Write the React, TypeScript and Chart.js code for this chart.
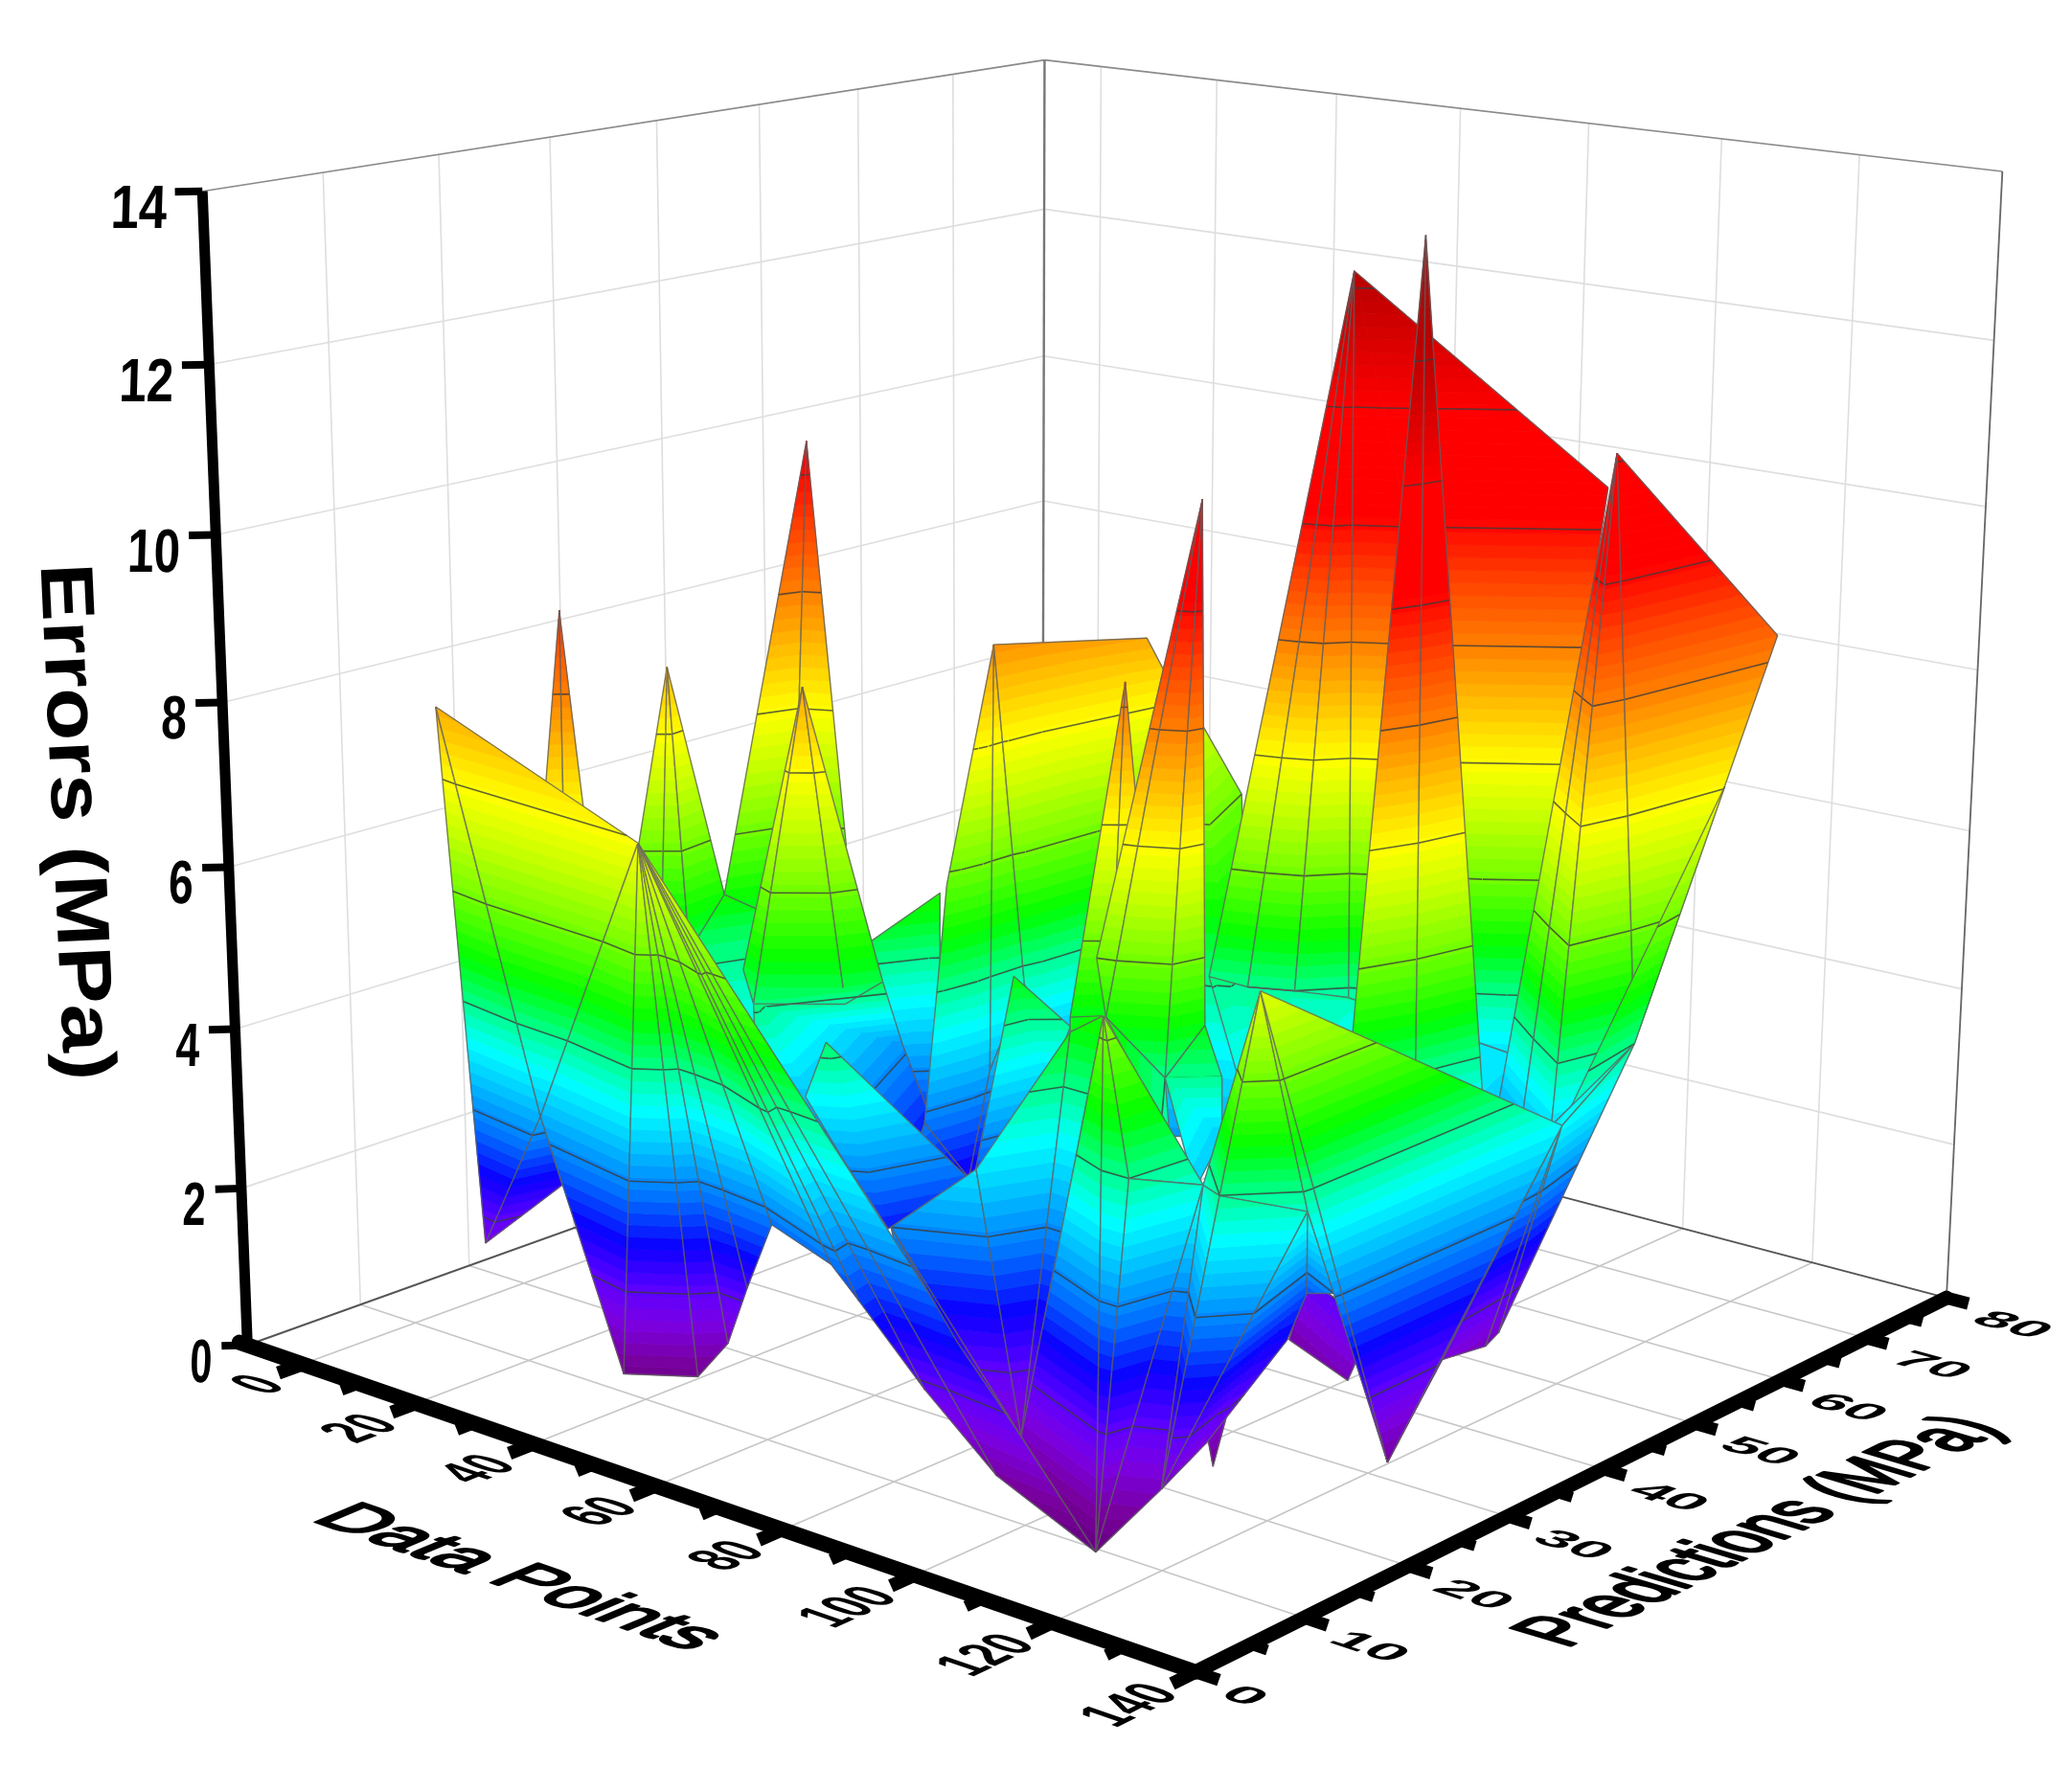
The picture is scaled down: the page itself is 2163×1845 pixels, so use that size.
import React, {useEffect, useRef} from 'react';
import {Chart, registerables} from 'chart.js';
Chart.register(...registerables);
const W=2163,H=1845;
const dataTicks=[0,20,40,60,80,100,120,140];
const predTicks=[0,10,20,30,40,50,60,70,80];
const errTicks=[0,2,4,6,8,10,12,14];
const DMIN=-10,DMAX=140,PMAX=80,ZMAX=14;
// camera fit: data-space axis landmarks -> image position
const CAL:number[][]=[[-10,0,0,260,1404],[-10,0,14,210,200],[-10,0,8,232,731],[140,0,0,1248,1748],[140,80,0,2035,1352],[140,80,14,2090,179],[-10,80,14,1091,62],[-10,80,0,1085,1109],[-10,80,12,1091,218],[0,0,0,318,1425],[60,0,0,683,1552],[140,40,0,1671,1533],[0,80,14,1149,69],[20,80,14,1271,83],[40,80,14,1395,100],[120,80,14,1941,163]];
function solve(){const n=11;const A=Array.from({length:n},()=>new Array(n+1).fill(0));
 const add=(r:number[],b:number)=>{for(let i=0;i<n;i++){for(let j=0;j<n;j++)A[i][j]+=r[i]*r[j];A[i][n]+=r[i]*b;}};
 for(const [d,p,z,u0,v0] of CAL){const X=d/100,Y=p/100,Z=z/10,u=u0/1000,v=v0/1000;
  add([X,Y,Z,1,0,0,0,0,-u*X,-u*Y,-u*Z],u);add([0,0,0,0,X,Y,Z,1,-v*X,-v*Y,-v*Z],v);}
 for(let i=0;i<n;i++){let m=i;for(let k=i+1;k<n;k++)if(Math.abs(A[k][i])>Math.abs(A[m][i]))m=k;[A[i],A[m]]=[A[m],A[i]];
  for(let k=0;k<n;k++)if(k!==i){const f=A[k][i]/A[i][i];for(let j=i;j<=n;j++)A[k][j]-=f*A[i][j];}}
 return A.map((r,i)=>r[n]/r[i]);}
const M=solve();
function proj(d:number,p:number,z:number):[number,number]{const X=d/100,Y=p/100,Z=z/10;const w=M[8]*X+M[9]*Y+M[10]*Z+1;
 return [1000*(M[0]*X+M[1]*Y+M[2]*Z+M[3])/w,1000*(M[4]*X+M[5]*Y+M[6]*Z+M[7])/w];}
const dataPoint=[29.7,31.0,25.4,28.1,12.0,12.0,15.7,18.4,16.4,20.3,24.9,11.9,15.3,38.2,21.2,38.8,34.8,41.2,37.6,37.1,33.5,37.3,
45.8,47.5,118.2,127.2,50.5,41.6,46.0,51.9,89.6,78.7,60.9,45.9,51.2,50.4,51.1,51.5,51.8,50.2,47.6,50.5,49.8,83.2,
77.6,85.3,81.2,98.3,84.6,85.6,91.5,93.3,96.2,92.9,102.4,80.9,71.4,76.3,81.7,86.0,104.4,107.2,115.8,109.7,112.6,114.6,
124.5,127.7,125.5,122.9,114.0,105.6,126.2,127.7,56.5,64.6,61.6,57.5,53.8,7.8,7.2,22.1,44.1,38.6,46.0,48.5,53.4,60.0,
74.4,79.4,86.0,96.8,112.6,113.2,109.8,112.5,98.0,96.1,111.3,114.7,64.6,62.0,64.4,68.1,75.0,82.6,83.0,104.8,94.5,86.8,
14.6,111.1,113.2,117.5,122.3,128.4,117.4,115.0,129.5,129.5,127.3,127.3,119.6,117.7,117.8,87.1,121.4,104.0,95.8,31.7,103.4];
const prediction=[9.2,11.3,8.7,10.0,28.2,23.5,25.2,26.4,30.9,35.3,38.0,41.9,31.6,27.6,22.0,39.1,34.7,37.6,35.6,26.9,23.1,21.9,
25.7,28.3,24.8,21.2,25.4,19.9,61.2,62.4,38.2,35.3,48.2,40.2,52.5,55.4,53.1,43.2,34.1,30.7,34.5,37.0,40.9,29.7,
28.1,31.6,29.7,27.1,26.2,26.5,28.5,31.2,31.0,33.3,24.4,53.8,46.1,46.9,48.2,51.0,56.7,62.6,36.3,34.7,39.4,45.1,
50.1,66.2,53.3,46.4,49.9,53.4,62.0,43.9,17.7,26.3,20.4,18.8,17.3,9.5,12.9,10.5,8.0,8.8,11.5,12.9,12.0,10.6,
7.7,7.3,9.3,9.3,8.6,18.6,21.5,21.2,38.8,38.3,33.9,34.1,30.7,28.5,34.4,34.1,12.8,16.1,24.7,14.0,13.0,11.8,
16.2,12.4,18.0,11.5,13.5,17.7,23.5,17.4,12.2,12.2,26.8,26.8,37.8,43.8,45.1,25.3,48.5,40.0,34.7,39.5,21.2];
const errorMPa=[9.4,5.6,5.6,5.6,7.8,4.4,4.4,4.4,4.9,4.4,5.4,10.2,4.9,3.4,3.3,5.0,4.5,1.9,2.0,8.0,4.6,4.3,
4.3,4.5,2.4,2.8,2.1,2.5,6.6,5.6,3.0,2.9,4.3,8.2,7.95,7.3,4.25,2.97,1.84,2.67,5.45,3.06,3.97,8.7,
4.67,4.67,4.67,11.1,5.6,4.9,4.2,4.75,4.2,3.3,3.3,12.8,4.27,4.2,4.2,4.08,3.45,10.3,14.0,4.55,4.0,3.7,
11.3,8.7,4.2,3.46,3.2,2.96,7.0,3.68,4.4,2.5,2.1,2.9,3.7,7.9,1.05,3.1,6.95,0.35,0.35,0.75,1.6,2.6,
2.6,2.3,1.3,0.55,0.1,0.95,0.3,1.1,1.35,0.6,0.7,1.5,4.8,2.4,3.3,4.1,2.8,3.5,4.75,5.85,0.75,1.75,
1.8,4.2,3.9,0.8,4.2,3.95,1.9,0.95,6.7,6.7,0.5,0.5,0.95,0.75,0.85,5.0,3.2,2.9,3.3,2.9,4.1];
const VERT=dataPoint.map((d,i)=>[d,prediction[i],errorMPa[i]]);
// surface facets, back to front (painter's order), by vertex index
const FACES:number[][]=[[5,8,9,13,14],[0,2,3],[0,3,1],[4,5,6],[4,6,7],[4,7,8],[11,8,9],[11,9,10],[15,16,18,17],[19,20,21],[19,21,22],[19,22,23],[21,22,23,129,17,26,27],[28,29,30,31,32],[33,40,39,38,41],[33,41,42],[33,42,37,36,35,34],[38,37,42,41],[39,38,76],[43,44,46],[43,46,45],[47,48,49],[47,49,50],[47,50,51],[49,50,130],[50,51,52,53,54],[56,59,60,126,127,128],[55,56,57],[55,57,58],[55,58,59],[55,59,60,61],[62,63,64],[62,64,65],[66,71,70],[66,70,69],[66,69,68],[66,68,67],[72,73,68],[69,68,73],[74,75,76,77,78],[104,109,90],[79,81,80],[81,80,110],[79,82,81],[82,81,83],[82,83,84],[82,84,85],[82,85,86],[82,86,87],[82,87,88],[82,88,89],[82,89,90],[82,90,91],[82,91,92],[93,94,95],[96,97,98,99],[100,101,102,103],[108,109,104],[108,104,105],[108,105,106],[44,125,106],[108,106,125],[92,108,107],[92,107,111],[107,111,112],[92,111,112],[92,112,113],[113,112,114],[113,114,115],[113,115,24,116,117],[115,24,25],[118,112,114],[118,114,115],[73,120,122],[73,122,123],[73,123,124],[68,124,73],[118,115,120],[118,120,73]];
const STOPS:[number,number,number,number][]=[[0,0x5e,0,0x78],[0.5,0x78,0,0x9c],[1,0x7a,0,0xe0],[1.4,0x60,0,0xff],[2,0x0a,0,0xff],[2.6,0,0x70,0xff],[3.2,0,0xc0,0xff],[3.7,0,0xff,0xff],[4.2,0,0xff,0x90],[4.8,0,0xff,0],[5.6,0x70,0xff,0],[6.4,0xc8,0xff,0],[7,0xff,0xff,0],[7.7,0xff,0xc0,0],[8.4,0xff,0x80,0],[9.2,0xff,0x40,0],[9.9,0xff,0,0],[11.2,0xff,0,0],[12,0xd8,0,0],[12.8,0xb8,0,0],[14,0x90,0x20,0x20]];
function colorAt(z:number){let i=0;while(i<STOPS.length-2&&z>STOPS[i+1][0])i++;const a=STOPS[i],b=STOPS[i+1];const t=Math.max(0,Math.min(1,(z-a[0])/(b[0]-a[0])));
 return `rgb(${Math.round(a[1]+t*(b[1]-a[1]))},${Math.round(a[2]+t*(b[2]-a[2]))},${Math.round(a[3]+t*(b[3]-a[3]))})`;}
const BAND=0.15,CONTOUR=1.4;
function clip(poly:number[][],lv:number,keepAbove:boolean){const out:number[][]=[];for(let i=0;i<poly.length;i++){const a=poly[i],b=poly[(i+1)%poly.length];
 const ia=keepAbove?a[2]>=lv:a[2]<=lv,ib=keepAbove?b[2]>=lv:b[2]<=lv;if(ia)out.push(a);
 if(ia!==ib){const t=(lv-a[2])/(b[2]-a[2]);out.push([a[0]+t*(b[0]-a[0]),a[1]+t*(b[1]-a[1]),lv]);}}return out;}
function pts(list:number[][]){return list.map(v=>{const [x,y]=proj(v[0],v[1],v[2]);return {x,y};});}
function line(a:number[],b:number[],color:string,w:number,cap='butt'){return {data:pts([a,b]),borderColor:color,borderWidth:w,borderCapStyle:cap,pointRadius:0,showLine:true,fill:false};}
function build(){const ds:any[]=[];
 const wall='#dedede',fl='#c6c6c6';
 for(const z of errTicks.slice(1,-1)){ds.push(line([DMIN,0,z],[DMIN,PMAX,z],wall,1.6));ds.push(line([DMIN,PMAX,z],[DMAX,PMAX,z],wall,1.6));}
 for(const p of predTicks.slice(1,-1)){ds.push(line([DMIN,p,0],[DMIN,p,ZMAX],wall,1.6));ds.push(line([DMIN,p,0],[DMAX,p,0],fl,1.6));}
 for(const d of dataTicks.slice(0,-1)){ds.push(line([d,PMAX,0],[d,PMAX,ZMAX],wall,1.6));ds.push(line([d,0,0],[d,PMAX,0],fl,1.6));}
 ds.push(line([DMIN,0,ZMAX],[DMIN,PMAX,ZMAX],'#8a8a8a',1.6));ds.push(line([DMIN,PMAX,ZMAX],[DMAX,PMAX,ZMAX],'#8a8a8a',1.6));
 ds.push(line([DMIN,PMAX,0],[DMIN,PMAX,ZMAX],'#777',2.4));ds.push(line([DMAX,PMAX,0],[DMAX,PMAX,ZMAX],'#666',1.8));
 ds.push(line([DMIN,0,0],[DMIN,PMAX,0],'#555',2));ds.push(line([DMIN,PMAX,0],[DMAX,PMAX,0],'#555',2));
 for(const f of FACES){const vs=f.map(i=>VERT[i]);
  for(let k=1;k<vs.length-1;k++){const tri=[vs[0],vs[k],vs[k+1]];const zs=tri.map(v=>v[2]);const lo=Math.floor(Math.min(...zs)/BAND),hi=Math.ceil(Math.max(...zs)/BAND);
   for(let b=lo;b<hi;b++){let poly=clip(tri,b*BAND,true);if(poly.length<3)continue;poly=clip(poly,(b+1)*BAND,false);if(poly.length<3)continue;
    const c=colorAt((b+0.5)*BAND);const P=pts(poly);P.push(P[0]);ds.push({data:P,backgroundColor:c,borderColor:c,borderWidth:0.9,pointRadius:0,showLine:true,fill:'shape'});}
   for(let n=1;n*CONTOUR<14;n++){const L=n*CONTOUR+1e-4;const cross:number[][]=[];for(let i=0;i<3;i++){const a=tri[i],b=tri[(i+1)%3];if((a[2]-L)*(b[2]-L)<0){const t=(L-a[2])/(b[2]-a[2]);cross.push([a[0]+t*(b[0]-a[0]),a[1]+t*(b[1]-a[1]),L]);}}
    if(cross.length===2)ds.push(line(cross[0],cross[1],'rgba(60,60,60,0.8)',1.6));}
  }
  for(let i=0;i<vs.length;i++)ds.push(line(vs[i],vs[(i+1)%vs.length],'rgba(95,95,95,0.8)',1.4));
 }
 for(let d=0;d<=DMAX;d+=10){const maj=d%20===0;ds.push(line([d,0,0],[d,maj?-2.1:-1.5,0],'#000',maj?14:12));}
 for(let p=0;p<=PMAX;p+=5){const maj=p%10===0;ds.push(line([DMAX,p,0],[DMAX+(maj?3.2:2.3),p,0],'#000',maj?13:11));}
 for(const z of errTicks)ds.push(line([DMIN,0,z],[DMIN-2.2,-1.2,z],'#000',8));
 ds.push(line([DMIN,0,0],[DMIN,0,ZMAX],'#000',11));ds.push(line([DMIN-1.5,0,0],[DMAX,0,0],'#000',16,'round'));ds.push(line([DMAX,0,0],[DMAX,PMAX,0],'#000',15,'round'));
 ds.forEach((d,i)=>{d.order=ds.length-i;});return ds;}
function unit(a:[number,number],b:[number,number]):[number,number]{const x=b[0]-a[0],y=b[1]-a[1],l=Math.hypot(x,y);return [x/l,y/l];}
function txt(ctx:any,s:string,x:number,y:number,u:number[],v:number[],len:number,h:number,align:string,bold=true){ctx.save();ctx.font=(bold?'bold ':'')+'40px "Liberation Sans"';ctx.fillStyle='#000';ctx.strokeStyle='#000';ctx.lineWidth=1.8;ctx.lineJoin='round';ctx.textAlign='left';ctx.textBaseline='alphabetic';
 const w=ctx.measureText(s).width,k1=len/w,k2=h/(40*0.72);ctx.transform(u[0]*k1,u[1]*k1,-v[0]*k2,-v[1]*k2,x,y);
 const ox=align==='center'?-w/2:align==='right'?-w:0;ctx.fillText(s,ox,40*0.72*0.5);if(!bold)ctx.strokeText(s,ox,40*0.72*0.5);ctx.restore();}
const labels={id:'labels3d',afterDraw(chart:any){const ctx=chart.ctx,sx=chart.scales.x,sy=chart.scales.y;const px=(d:number,p:number,z:number):[number,number]=>{const q=proj(d,p,z);return [sx.getPixelForValue(q[0]),sy.getPixelForValue(q[1])];};
 for(const z of errTicks){const a=px(DMIN,0,z);txt(ctx,String(z),a[0]-37,a[1]+15,[1,0],[0.03,-1],(z<10?1:2)*(23+z*0.45),46,'right');}
 for(const d of dataTicks){const a=px(d,0,0);const u=unit(a,px(d,6,0)),v=unit(a,px(d-6,0,0));txt(ctx,String(d),a[0]-37,a[1]+16,u,v,String(d).length*26,48,'right');}
 for(const p of predTicks){const a=px(DMAX,p,0);const u=unit(a,px(DMAX+6,p,0)),v=unit(a,px(DMAX,p+6,0));txt(ctx,String(p),a[0]+36,a[1]+18,u,v,String(p).length*36,30,'left');}
 let u=unit(px(70,0,0),px(76,0,0)),v=unit(px(70,0,0),px(70,6,0));txt(ctx,'Data Points',547,1645,u,v,420,55,'center',false);
 u=unit(px(140,40,0),px(140,46,0));v=unit(px(140,40,0),px(134,40,0));txt(ctx,'Predictions (MPa)',1831,1597,u,v,512,68,'center',false);
 txt(ctx,'Errors (MPa)',83,858,[0.046,1],[1,-0.046],540,56,'center');
}};
export default function App(){const ref=useRef<HTMLCanvasElement>(null);
 useEffect(()=>{const chart=new Chart(ref.current as any,{type:'scatter',data:{datasets:build()},plugins:[labels],options:{responsive:false,animation:false,events:[],layout:{padding:0},plugins:{legend:{display:false},tooltip:{enabled:false}},scales:{x:{type:'linear',display:false,min:0,max:W},y:{type:'linear',display:false,min:0,max:H,reverse:true}}}} as any);return ()=>chart.destroy();},[]);
 return <canvas ref={ref} width={W} height={H} style={{position:'absolute',left:0,top:0,display:'block',background:'#fff'}}/>;}
